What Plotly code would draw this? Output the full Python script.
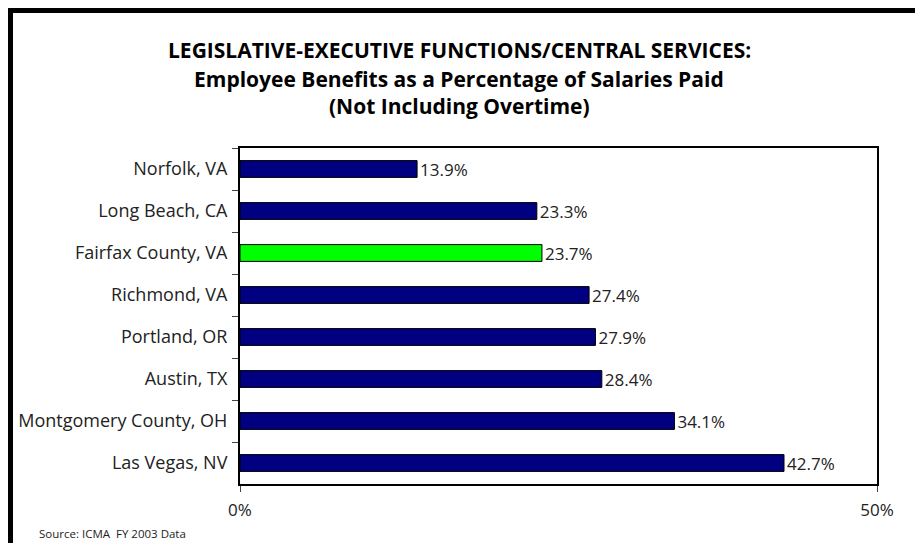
import plotly.graph_objects as go

cities = ["Norfolk, VA", "Long Beach, CA", "Fairfax County, VA", "Richmond, VA",
          "Portland, OR", "Austin, TX", "Montgomery County, OH", "Las Vegas, NV"]
values = [13.9, 23.3, 23.7, 27.4, 27.9, 28.4, 34.1, 42.7]
highlight = "Fairfax County, VA"
title_lines = ["LEGISLATIVE-EXECUTIVE FUNCTIONS/CENTRAL SERVICES:",
               "Employee Benefits as a Percentage of Salaries Paid",
               "(Not Including Overtime)"]
x_ticks = [0, 50]
x_tick_labels = ["0%", "50%"]
source_text = "Source: ICMA  FY 2003 Data"

W, H = 915, 543
L, R, T, B = 240, 38, 148, 59
pw, ph = W - L - R, H - T - B

def px(x):
    return (x - L) / pw

def py(y):
    return (H - B - y) / ph

colors = ["#00FF00" if c == highlight else "#000080" for c in cities]
font = "'Open Sans', Lato, sans-serif"

fig = go.Figure(go.Bar(
    y=cities, x=values, orientation="h",
    marker=dict(color=colors, line=dict(color="black", width=1)),
    text=[f"{v:.1f}%" for v in values], textposition="outside",
    textfont=dict(family=font, size=17, color="#222"),
    constraintext="none", cliponaxis=False, width=0.4,
))

fig.update_layout(
    width=W, height=H, margin=dict(l=L, r=R, t=T, b=B),
    paper_bgcolor="white", plot_bgcolor="white", showlegend=False,
    font=dict(family=font, size=17, color="#222"),
    xaxis=dict(range=[0, 50], tickvals=x_ticks, ticktext=x_tick_labels,
               ticks="outside", ticklen=6, tickcolor="#444", showgrid=False,
               zeroline=False, showline=True, linecolor="black", linewidth=2,
               mirror=True, ticklabelstandoff=4, tickfont=dict(size=17)),
    yaxis=dict(categoryorder="array", categoryarray=cities, autorange="reversed",
               ticks="outside", ticklen=6, tickcolor="#444", tickson="boundaries",
               showgrid=False, zeroline=False, showline=True, linecolor="black",
               linewidth=2, mirror=True, ticklabelstandoff=7,
               tickfont=dict(size=18)),
)

for i, (line, y) in enumerate(zip(title_lines, [50, 79, 106])):
    fig.add_annotation(text=f"<b>{line}</b>", xref="paper", yref="paper",
                       x=px(459), y=py(y), showarrow=False, xanchor="center",
                       yanchor="middle", borderpad=0,
                       font=dict(family="'Open Sans', sans-serif", size=21, color="black"))

fig.add_annotation(text=source_text, xref="paper", yref="paper",
                   x=px(37), y=py(533), xanchor="left", yanchor="middle",
                   showarrow=False, font=dict(family=font, size=11.5, color="#222"))

# outer frame (top and left edges)
fig.add_shape(type="line", xref="paper", yref="paper",
              x0=px(8), x1=px(W + 5), y0=py(10.5), y1=py(10.5),
              line=dict(color="black", width=5))
fig.add_shape(type="line", xref="paper", yref="paper",
              x0=px(10.5), x1=px(10.5), y0=py(8), y1=py(H + 5),
              line=dict(color="black", width=5))

fig.write_html("out.html", config={"displayModeBar": False},
               post_script="document.body.style.margin='0';document.body.style.padding='0';document.body.style.overflow='hidden';")
